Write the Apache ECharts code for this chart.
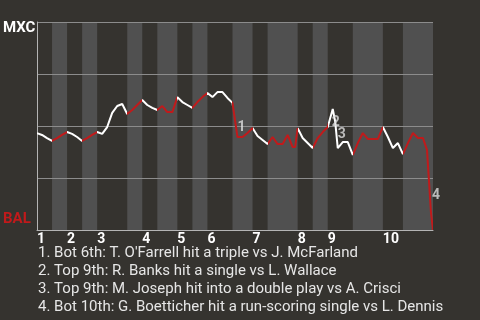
<!DOCTYPE html>
<html><head><meta charset="utf-8">
<script src="https://cdn.jsdelivr.net/npm/echarts@6/dist/echarts.min.js"></script>
<style>html,body{margin:0;padding:0;background:#35332f;}#c{width:480px;height:320px;}</style>
</head><body><div id="c"></div>
<script>
// Event index (plate appearances / plays) along the game
const eventX = [0,1,2,3,4,5,6,7,8,9,10,11,12,13,14,15,16,17,18,19,20,21,22,23,24,25,26,27,28,29,30,31,32,33,34,35,36,37,38,39,40,41,42,43,44,45,46,47,48,49,50,51,51.5,52,53,54,55,56,57,58,59,59.5,60,61,62,63,64,65,66,67,68,69,70,71,72,73,74,75,76,77,77.8,78.2,78.6,79];
// MXC win probability (%) after each event
const mxcWinPct = [46.6,45.7,44.2,42.8,44.2,45.7,47.1,46.2,44.7,42.8,44.2,45.7,47.1,46.2,49.5,56.3,59.6,60.6,55.8,57.7,60.1,62.5,60.1,58.7,57.7,59.6,56.7,56.7,63.9,61.5,60.1,58.7,61.5,63.9,65.9,63.9,66.3,66.3,63.5,61.1,44.7,44.7,46.6,49.0,45.2,43.3,41.3,44.7,41.3,41.3,45.7,39.9,39.9,49.0,44.2,41.8,39.4,44.2,47.1,49.5,58.2,51.9,39.4,42.3,42.3,36.1,41.8,46.6,43.8,43.8,43.8,49.5,44.7,39.4,41.8,36.5,41.8,46.6,44.2,44.2,38.5,23.6,8.2,0];
// Half-inning start events (top 1st, bot 1st, top 2nd, ...)
const halfInningStarts = [0,3,6,9,12,18,21,24,28,31,34,39,43,46,52,55,58,63,69,73];
const totalEvents = 79;
const inningStarts = [0,6,12,21,28,34,43,52,58,69];
const inningLabels = ['1','2','3','4','5','6','7','8','9','10'];
const teamTop = 'MXC';
const teamBottom = 'BAL';
const noteEvents = [40,59,60,78.6];
const noteLabels = ['1','2','3','4'];
const notes = [
  "1. Bot 6th: T. O'Farrell hit a triple vs J. McFarland",
  "2. Top 9th: R. Banks hit a single vs L. Wallace",
  "3. Top 9th: M. Joseph hit into a double play vs A. Crisci",
  "4. Bot 10th: G. Boetticher hit a run-scoring single vs L. Dennis"
];

const WHITE = '#ffffff', RED = '#c01a1b', BAND = '#505050';
const noteOffsets = [[4,-10],[3,14],[4,-14],[5,-17]];

const lineData = eventX.map((x,i)=>[x, mxcWinPct[i]]);
const bands = [];
const pieces = [];
for (let i=0;i<halfInningStarts.length;i++){
  const s = halfInningStarts[i];
  const e = i+1<halfInningStarts.length ? halfInningStarts[i+1] : totalEvents;
  const bottom = i%2===1;
  if (bottom) bands.push([s,e]);
  const p = {gte:s, color: bottom?RED:WHITE};
  if (i+1<halfInningStarts.length) p.lt = e; else p.lte = e;
  pieces.push(p);
}
const noteData = noteEvents.map((x,i)=>{
  const idx = eventX.indexOf(x);
  return {value:[x, mxcWinPct[idx]], label:{offset: noteOffsets[i]}};
});

const chart = echarts.init(document.getElementById('c'), null, {renderer:'canvas'});
chart.setOption({
  backgroundColor:'#35332f',
  animation:false,
  title:{
    text: notes.join('\n'),
    left:38, top:244, padding:0,
    textStyle:{color:'#e6e6e6', fontSize:15, fontWeight:'normal', fontFamily:'Roboto', lineHeight:18}
  },
  grid:{left:37, right:47, top:22, bottom:90},
  xAxis:{
    type:'value', min:0, max:totalEvents, interval:1,
    splitLine:{show:false}, axisTick:{show:false},
    axisLine:{show:true, lineStyle:{color:'#b4b4b4', width:1}},
    axisLabel:{
      show:true, margin:2, align:'left', color:'#ffffff', fontWeight:'bold', fontSize:14, fontFamily:'Roboto',
      formatter:(v)=>{const k=inningStarts.indexOf(v); return k>=0?inningLabels[k]:'';}
    }
  },
  yAxis:{
    type:'value', min:0, max:100, interval:25,
    splitLine:{show:true, lineStyle:{color:'#8c8c8c', width:1}},
    axisTick:{show:false},
    axisLine:{show:true, lineStyle:{color:'#b4b4b4', width:1}},
    axisLabel:{
      margin:34, align:'left',
      formatter:(v)=> v===100?'{t|'+teamTop+'}':(v===0?'{b|'+teamBottom+'}':''),
      rich:{
        t:{color:'#ffffff', fontWeight:'bold', fontSize:15, fontFamily:'Roboto', padding:[12,0,0,0]},
        b:{color:RED, fontWeight:'bold', fontSize:15, fontFamily:'Roboto', padding:[0,0,22,0]}
      }
    }
  },
  visualMap:{type:'piecewise', show:false, dimension:0, seriesIndex:1, pieces:pieces},
  series:[
    {
      type:'custom', z:-1, silent:true,
      data: bands,
      renderItem:(params, api)=>{
        const a = api.coord([api.value(0), 100]);
        const b = api.coord([api.value(1), 0]);
        return {type:'rect', shape:{x:a[0], y:a[1], width:b[0]-a[0], height:b[1]-a[1]}, style:{fill:BAND}};
      }
    },
    {
      type:'line', data: lineData, showSymbol:false, symbol:'none', z:3,
      lineStyle:{width:2}
    },
    {
      type:'scatter', data: noteData, symbolSize:0, z:4,
      label:{show:true, position:'inside', formatter:(p)=>noteLabels[p.dataIndex], color:'#dcdcdc', fontSize:14, fontWeight:'bold', fontFamily:'Roboto'}
    }
  ]
});
</script>
</body></html>
